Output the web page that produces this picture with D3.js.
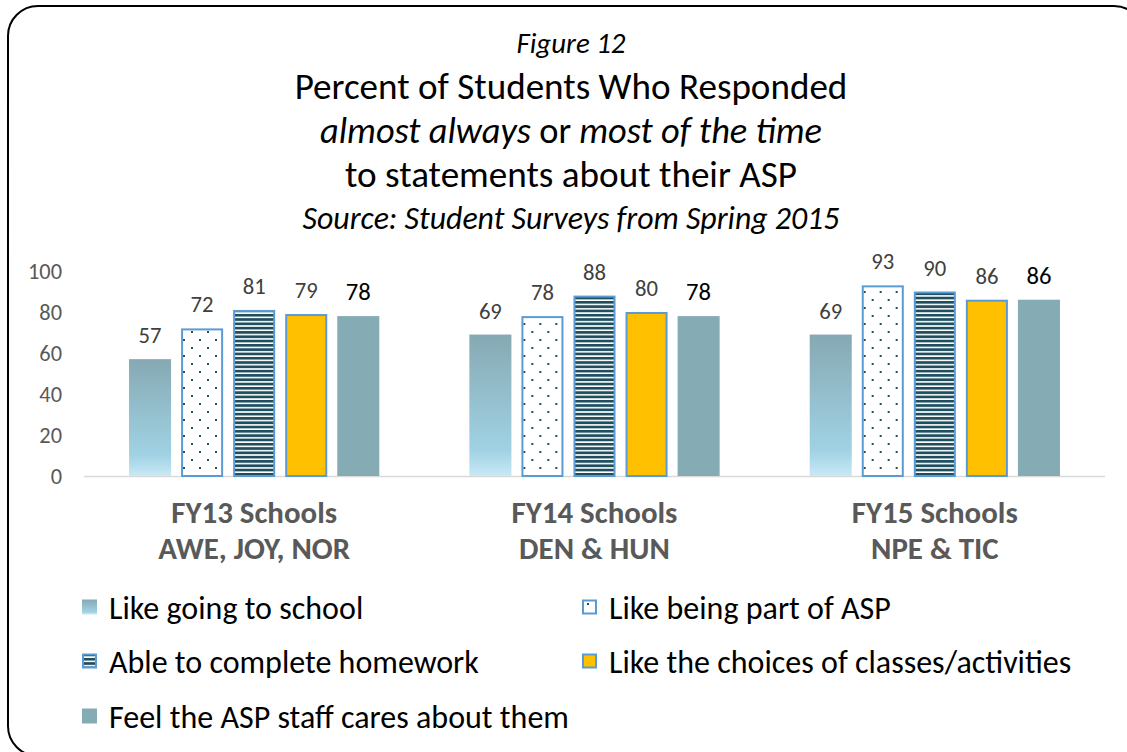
<!DOCTYPE html>
<html>
<head>
<meta charset="utf-8">
<script src="https://cdn.jsdelivr.net/npm/d3@7/dist/d3.min.js"></script>
<style>
  html, body { margin: 0; padding: 0; background: #fff; }
  svg { display: block; }
  text { font-family: Carlito, Calibri, Lato, "Open Sans", sans-serif; }
</style>
</head>
<body>
<svg id="chart" width="1127" height="752"></svg>
<script>
// ---- DATA ----
const categoriesLine1 = ["FY13 Schools", "FY14 Schools", "FY15 Schools"];
const categoriesLine2 = ["AWE, JOY, NOR", "DEN & HUN", "NPE & TIC"];
const seriesNames = [
  "Like going to school",
  "Like being part of ASP",
  "Able to complete homework",
  "Like the choices of classes/activities",
  "Feel the ASP staff cares about them"
];
const likeGoingToSchool = [57, 69, 69];
const likeBeingPartOfASP = [72, 78, 93];
const ableToCompleteHomework = [81, 88, 90];
const likeTheChoices = [79, 80, 86];
const feelStaffCares = [78, 78, 86];
const yTickValues = [0, 20, 40, 60, 80, 100];

const seriesValues = [likeGoingToSchool, likeBeingPartOfASP, ableToCompleteHomework, likeTheChoices, feelStaffCares];

// ---- SETUP ----
const svg = d3.select("#chart");
const defs = svg.append("defs");

const grad = defs.append("linearGradient").attr("id", "gradSchool")
  .attr("x1", 0).attr("y1", 0).attr("x2", 0).attr("y2", 1);
grad.append("stop").attr("offset", "0%").attr("stop-color", "#86a9b3");
grad.append("stop").attr("offset", "82%").attr("stop-color", "#a0d2e4");
grad.append("stop").attr("offset", "100%").attr("stop-color", "#c9e9f4");

const dots = defs.append("pattern").attr("id", "patDots")
  .attr("patternUnits", "userSpaceOnUse").attr("width", 16).attr("height", 16);
dots.append("rect").attr("width", 16).attr("height", 16).attr("fill", "#ffffff");
dots.append("rect").attr("x", 3).attr("y", 3).attr("width", 2).attr("height", 2).attr("fill", "#1f4e5f");
dots.append("rect").attr("x", 11).attr("y", 11).attr("width", 2).attr("height", 2).attr("fill", "#1f4e5f");

const stripes = defs.append("pattern").attr("id", "patStripes")
  .attr("patternUnits", "userSpaceOnUse").attr("width", 8).attr("height", 4.3);
stripes.append("rect").attr("width", 8).attr("height", 4.3).attr("fill", "#ffffff");
stripes.append("rect").attr("y", 0).attr("width", 8).attr("height", 2.7).attr("fill", "#1f4e5f");

const fills = ["url(#gradSchool)", "url(#patDots)", "url(#patStripes)", "#ffc000", "#85abb5"];
const strokes = [null, "#5b9bd5", "#5b9bd5", "#5b9bd5", null];
const labelColors = ["#404040", "#404040", "#404040", "#404040", "#000000"];

svg.append("rect")
  .attr("x", 8).attr("y", 6).attr("width", 1136).attr("height", 750)
  .attr("rx", 30).attr("ry", 30)
  .attr("fill", "none").attr("stroke", "#000").attr("stroke-width", 2);

function fit(sel, target) {
  const node = sel.node();
  const w = node.getComputedTextLength();
  const fs = parseFloat(sel.attr("font-size"));
  const nfs = w > 0 ? fs * target / w : fs;
  sel.attr("font-size", nfs.toFixed(2));
  return nfs;
}
// measure a probe text to get a font size giving a target width
function sizeFor(str, target, base, weight, style) {
  const t = svg.append("text").attr("font-size", base)
    .attr("font-weight", weight || "normal").attr("font-style", style || "normal").text(str);
  const w = t.node().getComputedTextLength();
  t.remove();
  return base * target / w;
}

// ---- TITLES ----
const cx = 571;
fit(svg.append("text").attr("x", cx).attr("y", 53).attr("text-anchor", "middle")
  .attr("font-size", 24).attr("font-style", "italic").attr("fill", "#000").text("Figure 12"), 109);

fit(svg.append("text").attr("x", cx).attr("y", 99).attr("text-anchor", "middle")
  .attr("font-size", 32).attr("fill", "#000").text("Percent of Students Who Responded"), 553);

const l2 = svg.append("text").attr("x", cx).attr("y", 143).attr("text-anchor", "middle")
  .attr("font-size", 32).attr("fill", "#000");
l2.append("tspan").attr("font-style", "italic").text("almost always");
l2.append("tspan").text(" or ");
l2.append("tspan").attr("font-style", "italic").text("most of the time");
fit(l2, 502);

fit(svg.append("text").attr("x", cx).attr("y", 187).attr("text-anchor", "middle")
  .attr("font-size", 32).attr("fill", "#000").text("to statements about their ASP"), 452);

fit(svg.append("text").attr("x", cx).attr("y", 229).attr("text-anchor", "middle")
  .attr("font-size", 26).attr("font-style", "italic").attr("fill", "#000").text("Source: Student Surveys from Spring 2015"), 537);

// ---- SCALES ----
const y = d3.scaleLinear().domain([0, 100]).range([476, 271]);
const x0 = d3.scaleBand().domain(categoriesLine1).range([84, 1105]).paddingInner(0).paddingOuter(0);
const x1 = d3.scaleBand().domain(d3.range(seriesNames.length)).range([0, x0.bandwidth()])
  .paddingInner(10 / 52).paddingOuter(0.865);

// y axis
const tickFs = sizeFor("100", 34, 18);
const yAxis = svg.append("g").attr("transform", "translate(62,0)")
  .call(d3.axisLeft(y).tickValues(yTickValues).tickSize(0).tickPadding(0));
yAxis.select(".domain").remove();
yAxis.selectAll("text").attr("font-size", tickFs).attr("fill", "#595959")
  .style("font-family", "Carlito, Calibri, Lato, sans-serif");

svg.append("line").attr("x1", 84).attr("x2", 1105).attr("y1", y(0) + 0.5).attr("y2", y(0) + 0.5)
  .attr("stroke", "#d9d9d9").attr("stroke-width", 1.5);

// ---- BARS ----
const valFs = sizeFor("57", 23, 20);
const valFsLast = sizeFor("78", 25, 22);
const labelSizes = [valFs, valFs, valFs, valFs, valFsLast];

const groups = svg.append("g").selectAll("g").data(categoriesLine1).join("g")
  .attr("transform", d => `translate(${x0(d)},0)`);

groups.each(function(cat, ci) {
  const g = d3.select(this);
  seriesValues.forEach((vals, si) => {
    const v = vals[ci];
    const sw = strokes[si] ? 2 : 0;
    g.append("rect")
      .attr("x", x1(si) + sw / 2)
      .attr("y", y(v) + sw / 2)
      .attr("width", x1.bandwidth() - sw)
      .attr("height", y(0) - y(v) - sw / 2)
      .attr("fill", fills[si])
      .attr("stroke", strokes[si] || "none")
      .attr("stroke-width", sw);
    g.append("text")
      .attr("x", x1(si) + x1.bandwidth() / 2)
      .attr("y", y(v) - 16)
      .attr("text-anchor", "middle")
      .attr("font-size", labelSizes[si])
      .attr("fill", labelColors[si])
      .text(v);
  });
});

// category labels
const catFs = sizeFor("FY13 Schools", 166, 22, "bold");
categoriesLine1.forEach((c, i) => {
  const xc = x0(c) + x0.bandwidth() / 2;
  svg.append("text").attr("x", xc).attr("y", 512 + catFs * 0.36).attr("text-anchor", "middle")
    .attr("font-size", catFs).attr("font-weight", "bold").attr("fill", "#595959").text(c);
  svg.append("text").attr("x", xc).attr("y", 548 + catFs * 0.36).attr("text-anchor", "middle")
    .attr("font-size", catFs).attr("font-weight", "bold").attr("fill", "#595959").text(categoriesLine2[i]);
});

// ---- LEGEND ----
const legFs = sizeFor("Feel the ASP staff cares about them", 460, 26);
const legendPos = [
  [82, 607], [582, 607], [82, 661], [582, 661], [82, 716]
];
seriesNames.forEach((name, si) => {
  const [lx, ly] = legendPos[si];
  const sw = strokes[si] ? 2 : 0;
  svg.append("rect")
    .attr("x", lx + sw / 2).attr("y", ly - 7.5 + sw / 2)
    .attr("width", 15 - sw).attr("height", 15 - sw)
    .attr("fill", fills[si])
    .attr("stroke", strokes[si] || "none")
    .attr("stroke-width", sw);
  svg.append("text").attr("x", lx + 27).attr("y", ly + legFs * 0.36)
    .attr("font-size", legFs).attr("fill", "#000").text(name);
});
</script>
</body>
</html>
